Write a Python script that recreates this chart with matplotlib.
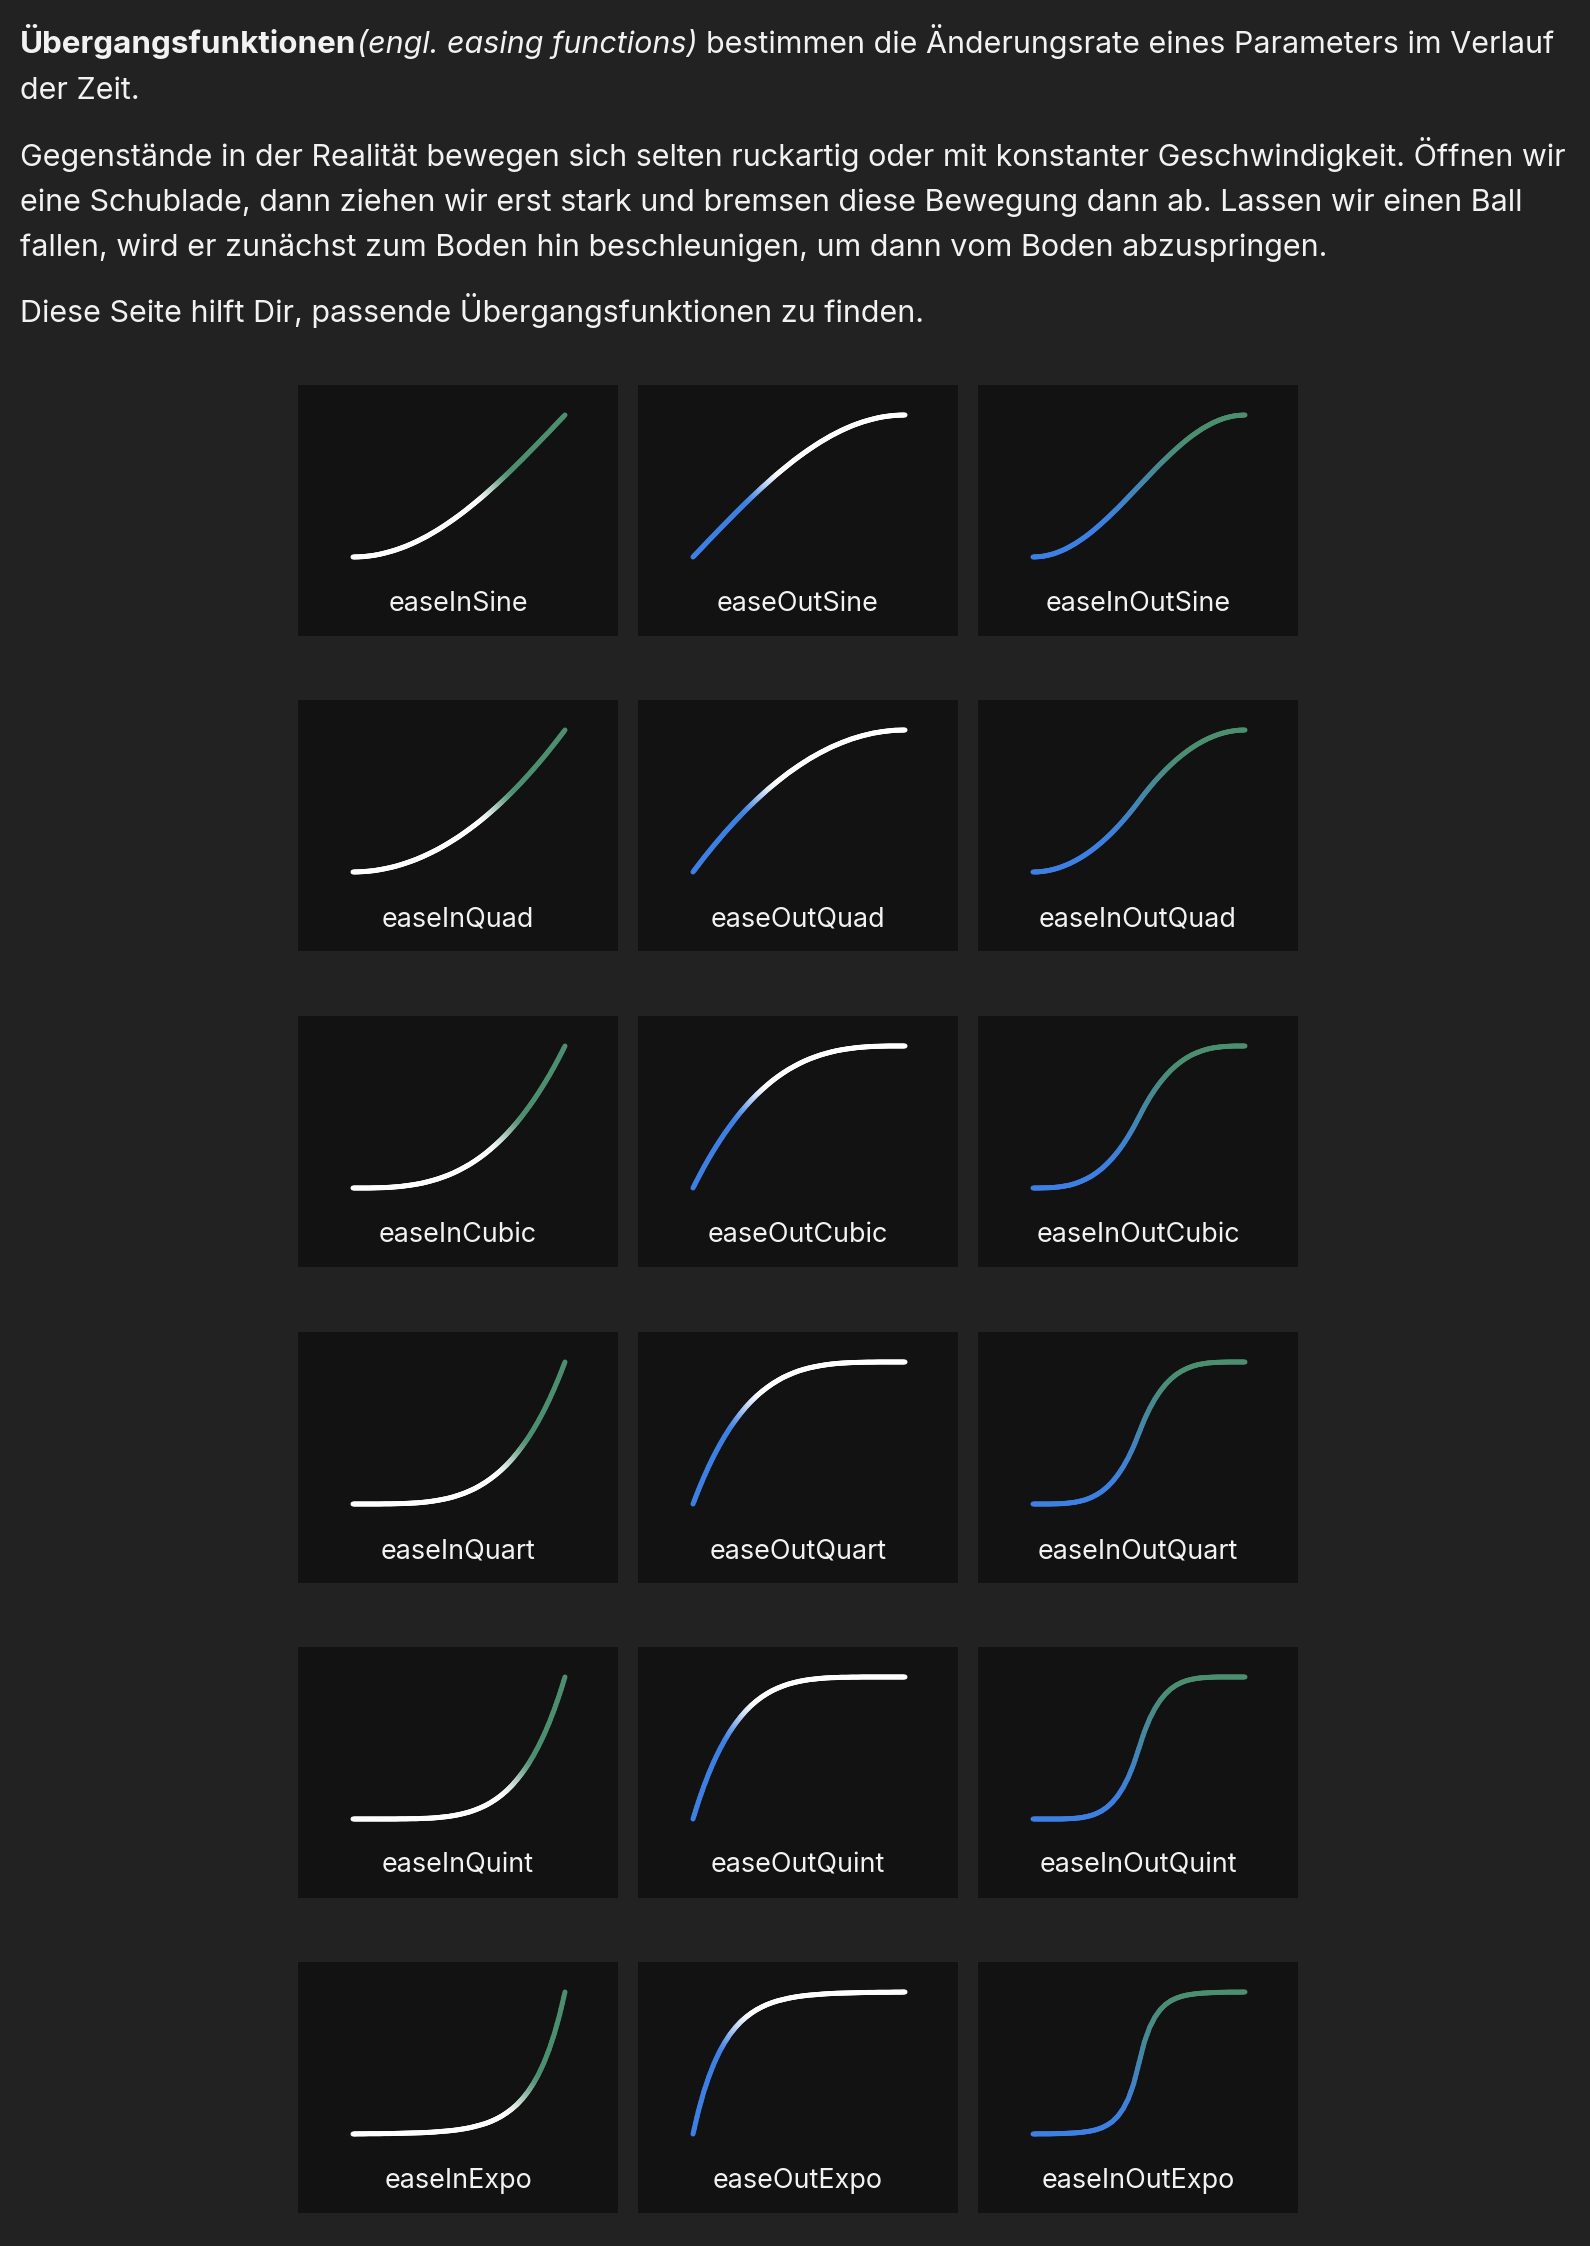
import numpy as np
import matplotlib.pyplot as plt
from matplotlib.collections import LineCollection
from matplotlib.patches import Rectangle
from matplotlib.colors import to_rgb

W, H = 1590, 2246
page_bg = '#222222'
card_bg = '#121212'
txt = '#f2f2f2'
green = np.array(to_rgb('#4b8e70'))
blue = np.array(to_rgb('#3d7fe3'))
white = np.array(to_rgb('#ffffff'))

plt.rcParams['font.family'] = ['Inter', 'DejaVu Sans']

# sample times (x axis of every card)
t = np.linspace(0, 1, 41)

in_sine = [0, 0.001, 0.003, 0.007, 0.012, 0.019, 0.028, 0.038, 0.049, 0.062, 0.076,
           0.092, 0.109, 0.128, 0.147, 0.169, 0.191, 0.215, 0.240, 0.266, 0.293,
           0.321, 0.351, 0.381, 0.412, 0.444, 0.478, 0.511, 0.546, 0.581, 0.617,
           0.654, 0.691, 0.729, 0.767, 0.805, 0.844, 0.882, 0.922, 0.961, 1]
out_sine = [0, 0.039, 0.078, 0.118, 0.156, 0.195, 0.233, 0.271, 0.309, 0.346, 0.383,
            0.419, 0.454, 0.489, 0.522, 0.556, 0.588, 0.619, 0.649, 0.679, 0.707,
            0.734, 0.760, 0.785, 0.809, 0.831, 0.853, 0.872, 0.891, 0.908, 0.924,
            0.938, 0.951, 0.962, 0.972, 0.981, 0.988, 0.993, 0.997, 0.999, 1]
inout_sine = [0, 0.002, 0.006, 0.014, 0.024, 0.038, 0.054, 0.074, 0.095, 0.120, 0.146,
              0.175, 0.206, 0.239, 0.273, 0.309, 0.345, 0.383, 0.422, 0.461, 0.5,
              0.539, 0.578, 0.617, 0.655, 0.691, 0.727, 0.761, 0.794, 0.825, 0.854,
              0.880, 0.905, 0.926, 0.946, 0.962, 0.976, 0.986, 0.994, 0.998, 1]

in_quad = [0, 0.001, 0.003, 0.006, 0.010, 0.016, 0.023, 0.031, 0.040, 0.051, 0.063,
           0.076, 0.090, 0.106, 0.123, 0.141, 0.160, 0.181, 0.203, 0.226, 0.250,
           0.276, 0.303, 0.331, 0.360, 0.391, 0.423, 0.456, 0.490, 0.526, 0.563,
           0.601, 0.640, 0.681, 0.723, 0.766, 0.810, 0.856, 0.903, 0.951, 1]
out_quad = [0, 0.049, 0.098, 0.144, 0.190, 0.234, 0.278, 0.319, 0.360, 0.399, 0.438,
            0.474, 0.510, 0.544, 0.578, 0.609, 0.640, 0.669, 0.698, 0.724, 0.750,
            0.774, 0.798, 0.819, 0.840, 0.859, 0.878, 0.894, 0.910, 0.924, 0.938,
            0.949, 0.960, 0.969, 0.978, 0.984, 0.990, 0.994, 0.998, 0.999, 1]
inout_quad = [0, 0.001, 0.005, 0.011, 0.020, 0.031, 0.045, 0.061, 0.080, 0.101, 0.125,
              0.151, 0.180, 0.211, 0.245, 0.281, 0.320, 0.361, 0.405, 0.451, 0.5,
              0.549, 0.595, 0.639, 0.680, 0.719, 0.755, 0.789, 0.820, 0.849, 0.875,
              0.899, 0.920, 0.939, 0.955, 0.969, 0.980, 0.989, 0.995, 0.999, 1]

in_cubic = [0, 0.000, 0.000, 0.000, 0.001, 0.002, 0.003, 0.005, 0.008, 0.011, 0.016,
            0.021, 0.027, 0.034, 0.043, 0.053, 0.064, 0.077, 0.091, 0.107, 0.125,
            0.145, 0.166, 0.190, 0.216, 0.244, 0.275, 0.308, 0.343, 0.381, 0.422,
            0.465, 0.512, 0.562, 0.614, 0.670, 0.729, 0.791, 0.857, 0.927, 1]
out_cubic = [0, 0.073, 0.143, 0.209, 0.271, 0.330, 0.386, 0.438, 0.488, 0.535, 0.578,
             0.619, 0.657, 0.692, 0.725, 0.756, 0.784, 0.810, 0.834, 0.855, 0.875,
             0.893, 0.909, 0.923, 0.936, 0.947, 0.957, 0.966, 0.973, 0.979, 0.984,
             0.989, 0.992, 0.995, 0.997, 0.998, 0.999, 1.000, 1.000, 1.000, 1]
inout_cubic = [0, 0.000, 0.001, 0.002, 0.004, 0.008, 0.014, 0.021, 0.032, 0.046, 0.063,
               0.083, 0.108, 0.137, 0.172, 0.211, 0.256, 0.307, 0.365, 0.429, 0.5,
               0.571, 0.636, 0.693, 0.744, 0.789, 0.829, 0.863, 0.892, 0.917, 0.938,
               0.954, 0.968, 0.979, 0.987, 0.992, 0.996, 0.998, 1.000, 1.000, 1]

in_quart = [0, 0, 0, 0, 0, 0, 0.001, 0.001, 0.002, 0.003, 0.004,
            0.006, 0.008, 0.011, 0.015, 0.020, 0.026, 0.033, 0.041, 0.051, 0.063,
            0.076, 0.092, 0.109, 0.130, 0.153, 0.179, 0.208, 0.240, 0.276, 0.316,
            0.361, 0.410, 0.463, 0.522, 0.586, 0.656, 0.732, 0.815, 0.904, 1]
out_quart = [0, 0.096, 0.185, 0.268, 0.344, 0.414, 0.478, 0.537, 0.590, 0.639, 0.684,
             0.724, 0.760, 0.792, 0.821, 0.847, 0.870, 0.891, 0.908, 0.924, 0.938,
             0.949, 0.959, 0.967, 0.974, 0.980, 0.985, 0.989, 0.992, 0.994, 0.996,
             0.997, 0.998, 0.999, 0.999, 1.000, 1.000, 1.000, 1.000, 1.000, 1]
inout_quart = [0, 0, 0, 0, 0.001, 0.002, 0.004, 0.008, 0.013, 0.021, 0.031,
               0.046, 0.065, 0.089, 0.120, 0.158, 0.205, 0.261, 0.328, 0.407, 0.5,
               0.593, 0.672, 0.739, 0.795, 0.842, 0.880, 0.911, 0.935, 0.954, 0.969,
               0.980, 0.987, 0.993, 0.996, 0.998, 0.999, 1.000, 1.000, 1.000, 1]

in_quint = [0, 0, 0, 0, 0, 0, 0, 0, 0, 0.001, 0.001,
            0.002, 0.002, 0.004, 0.005, 0.007, 0.010, 0.014, 0.018, 0.024, 0.031,
            0.040, 0.050, 0.063, 0.078, 0.095, 0.116, 0.140, 0.168, 0.200, 0.237,
            0.280, 0.328, 0.382, 0.444, 0.513, 0.590, 0.677, 0.774, 0.881, 1]
out_quint = [0, 0.119, 0.226, 0.323, 0.410, 0.487, 0.556, 0.618, 0.672, 0.720, 0.763,
             0.800, 0.832, 0.860, 0.884, 0.905, 0.922, 0.937, 0.950, 0.960, 0.969,
             0.976, 0.982, 0.986, 0.990, 0.993, 0.995, 0.996, 0.998, 0.998, 0.999,
             0.999, 1.000, 1.000, 1.000, 1.000, 1.000, 1.000, 1.000, 1.000, 1]
inout_quint = [0, 0, 0, 0, 0, 0, 0.001, 0.003, 0.005, 0.009, 0.016,
               0.025, 0.039, 0.058, 0.084, 0.119, 0.164, 0.222, 0.295, 0.387, 0.5,
               0.613, 0.705, 0.778, 0.836, 0.881, 0.916, 0.942, 0.961, 0.975, 0.984,
               0.991, 0.995, 0.997, 0.999, 1.000, 1.000, 1.000, 1.000, 1.000, 1]

in_expo = [0, 0.001, 0.001, 0.002, 0.002, 0.002, 0.003, 0.003, 0.004, 0.005, 0.006,
           0.007, 0.008, 0.009, 0.011, 0.013, 0.016, 0.019, 0.022, 0.026, 0.031,
           0.037, 0.044, 0.053, 0.063, 0.074, 0.088, 0.105, 0.125, 0.149, 0.177,
           0.210, 0.250, 0.297, 0.354, 0.420, 0.5, 0.595, 0.707, 0.841, 1]
out_expo = [0, 0.159, 0.293, 0.405, 0.5, 0.580, 0.646, 0.703, 0.75, 0.790, 0.823,
            0.851, 0.875, 0.895, 0.912, 0.926, 0.938, 0.947, 0.956, 0.963, 0.969,
            0.974, 0.978, 0.981, 0.984, 0.987, 0.989, 0.991, 0.992, 0.993, 0.994,
            0.995, 0.996, 0.997, 0.997, 0.998, 0.998, 0.998, 0.999, 0.999, 1]
inout_expo = [0, 0.001, 0.001, 0.001, 0.002, 0.003, 0.004, 0.006, 0.008, 0.011, 0.016,
              0.022, 0.031, 0.044, 0.063, 0.088, 0.125, 0.177, 0.25, 0.354, 0.5,
              0.646, 0.75, 0.823, 0.875, 0.912, 0.938, 0.956, 0.969, 0.978, 0.984,
              0.989, 0.992, 0.994, 0.996, 0.997, 0.998, 0.999, 0.999, 0.999, 1]

names = [['easeInSine', 'easeOutSine', 'easeInOutSine'],
         ['easeInQuad', 'easeOutQuad', 'easeInOutQuad'],
         ['easeInCubic', 'easeOutCubic', 'easeInOutCubic'],
         ['easeInQuart', 'easeOutQuart', 'easeInOutQuart'],
         ['easeInQuint', 'easeOutQuint', 'easeInOutQuint'],
         ['easeInExpo', 'easeOutExpo', 'easeInOutExpo']]
curves = [[in_sine, out_sine, inout_sine],
          [in_quad, out_quad, inout_quad],
          [in_cubic, out_cubic, inout_cubic],
          [in_quart, out_quart, inout_quart],
          [in_quint, out_quint, inout_quint],
          [in_expo, out_expo, inout_expo]]

# layout in pixels
card_w, card_h = 320, 251
col_x = [298, 638, 978]
row_y = [385, 700, 1016, 1332, 1647, 1962]
x0_px, sx = 55, 212     # t=0 position and px per unit
y0_px, sy = 172, 142    # value 0 position (from card top) and px per unit

fig = plt.figure(figsize=(W / 100, H / 100), dpi=100, facecolor=page_bg)
bg = fig.add_axes([0, 0, 1, 1])
bg.set_xlim(0, W)
bg.set_ylim(H, 0)
bg.axis('off')
bg.set_facecolor(page_bg)

# header text
r = fig.canvas.get_renderer()
fs = 21.95


def put(x, y, s, size=fs, **kw):
    tx = bg.text(x, y, s, va='baseline', ha='left', fontsize=size, color=txt, **kw)
    return x + tx.get_window_extent(r).width


space = 0.27 * fs * 100 / 72
x = put(20, 53, 'Übergangsfunktionen', size=22.6, fontweight='bold')
x = put(x + 1, 53, '(engl. easing functions)', fontstyle='italic')
put(x + space, 53, 'bestimmen die Änderungsrate eines Parameters im Verlauf')
put(20, 99, 'der Zeit.')
para2 = ['Gegenstände in der Realität bewegen sich selten ruckartig oder mit konstanter Geschwindigkeit. Öffnen wir',
         'eine Schublade, dann ziehen wir erst stark und bremsen diese Bewegung dann ab. Lassen wir einen Ball',
         'fallen, wird er zunächst zum Boden hin beschleunigen, um dann vom Boden abzuspringen.']
for i, line in enumerate(para2):
    put(20, 166 + 45 * i, line)
put(20, 322, 'Diese Seite hilft Dir, passende Übergangsfunktionen zu finden.')

# soft glow around the cards
for cy in row_y:
    for cx in col_x:
        for k in range(1, 9):
            bg.add_patch(Rectangle((cx - 2.5 * k, cy - 2.5 * k + 4), card_w + 5 * k, card_h + 5 * k,
                                   facecolor='white', edgecolor='none', alpha=0.003))


def colours(frac, kind):
    if kind == 0:
        a, b, c0, c1 = 0.52, 0.72, white, green
    elif kind == 1:
        a, b, c0, c1 = 0.28, 0.48, blue, white
    else:
        a, b, c0, c1 = 0.25, 0.80, blue, green
    w = np.clip((frac - a) / (b - a), 0, 1)
    w = w * w * (3 - 2 * w)
    return (1 - w)[:, None] * c0 + w[:, None] * c1


for i in range(6):
    for j in range(3):
        cx, cy = col_x[j], row_y[i]
        ax = fig.add_axes([cx / W, 1 - (cy + card_h) / H, card_w / W, card_h / H])
        ax.set_facecolor(card_bg)
        for s in ax.spines.values():
            s.set_visible(False)
        ax.set_xticks([])
        ax.set_yticks([])
        ax.set_xlim(-x0_px / sx, (card_w - x0_px) / sx)
        ax.set_ylim(-(card_h - y0_px) / sy, 1 + (y0_px - sy) / sy)

        v = np.array(curves[i][j], dtype=float)
        # split each straight piece into short pieces so the colour can change smoothly
        n = len(t)
        u = np.linspace(0, n - 1, (n - 1) * 4 + 1)
        xs = np.interp(u, np.arange(n), t)
        ys = np.interp(u, np.arange(n), v)
        pts = np.column_stack([xs, ys])
        segs = np.stack([pts[:-1], pts[1:]], axis=1)
        d = np.hypot(np.diff(xs) * sx, np.diff(ys) * sy)
        arc = np.concatenate([[0], np.cumsum(d)])
        mid = (arc[:-1] + arc[1:]) / 2 / arc[-1]
        lc = LineCollection(segs, colors=colours(mid, j), linewidths=3.6, capstyle='round')
        lc.set_snap(False)
        ax.add_collection(lc)

        ax.text(0.5, 1 - 226 / card_h, names[i][j], transform=ax.transAxes,
                ha='center', va='baseline', fontsize=19.4, color=txt)

fig.savefig('out.png', dpi=100, facecolor=page_bg)
